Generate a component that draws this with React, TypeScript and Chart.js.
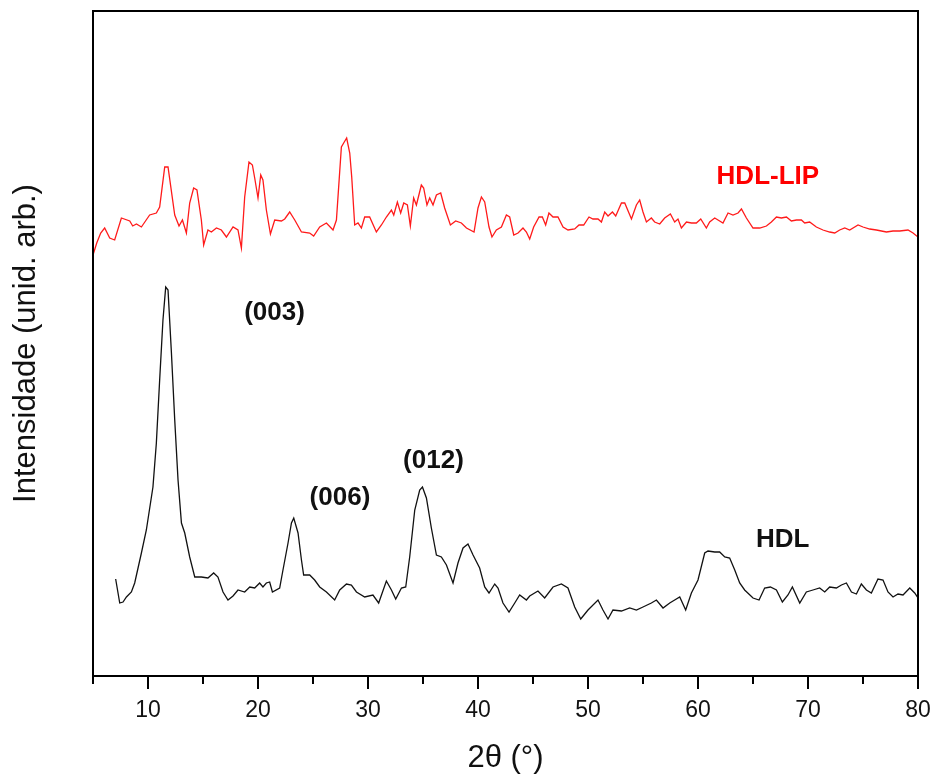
import React, { useEffect, useRef } from "react";
import { Chart, registerables } from "chart.js";

Chart.register(...registerables);

const FONT = '"Liberation Sans", Arial, Helvetica, sans-serif';

// x-axis tick marks (2θ, degrees); labels only on multiples of 10
const xTickValues = [5, 10, 15, 20, 25, 30, 35, 40, 45, 50, 55, 60, 65, 70, 75, 80];
const xTickLabels = ["", "10", "", "20", "", "30", "", "40", "", "50", "", "60", "", "70", "", "80"];

// HDL (black) pattern
const hdlTheta = [
  7.06, 7.43, 7.73, 8.04, 8.49, 8.79, 9.40, 9.85, 10.45, 10.76,
  11.06, 11.36, 11.61, 11.82, 12.13, 12.43, 12.73, 13.04, 13.34, 13.79,
  14.25, 14.85, 15.45, 15.97, 16.36, 16.82, 17.27, 17.73, 18.18, 18.79,
  19.25, 19.70, 20.15, 20.45, 20.76, 21.06, 21.31, 21.97, 22.27, 22.73,
  23.04, 23.25, 23.64, 23.95, 24.15, 24.70, 25.15, 25.61, 26.22, 26.97,
  27.43, 28.04, 28.49, 28.95, 29.70, 30.45, 30.97, 31.67, 32.13, 32.52,
  33.04, 33.43, 33.79, 34.25, 34.70, 34.95, 35.31, 35.76, 36.22, 36.67,
  37.13, 37.73, 38.18, 38.64, 39.09, 39.55, 40.15, 40.61, 41.00, 41.52,
  41.82, 42.27, 42.82, 43.34, 43.79, 44.40, 44.70, 45.45, 46.06, 46.82,
  47.58, 48.18, 48.79, 49.34, 50.00, 50.91, 51.36, 51.82, 52.27, 53.04,
  53.79, 54.40, 55.00, 55.76, 56.22, 56.82, 57.43, 57.88, 58.34, 58.88,
  59.40, 60.00, 60.61, 60.91, 61.52, 61.97, 62.43, 62.88, 63.34, 63.79,
  64.24, 65.00, 65.55, 66.06, 66.58, 67.13, 67.67, 68.18, 68.58, 69.25,
  69.85, 70.45, 71.06, 71.52, 71.97, 72.58, 73.04, 73.49, 73.95, 74.40,
  74.85, 75.31, 75.76, 76.36, 76.82, 77.27, 77.73, 78.18, 78.64, 79.25,
  79.70, 80.00,
];
const hdlIntensity = [
  97, 73, 74, 79, 84, 93, 123, 146, 189, 233,
  296, 356, 389, 386, 323, 256, 196, 153, 143, 119,
  99, 99, 98, 103, 99, 84, 76, 80, 86, 84,
  89, 88, 93, 89, 93, 94, 84, 88, 106, 133,
  153, 158, 143, 116, 101, 101, 96, 89, 84, 76,
  86, 92, 91, 84, 79, 81, 73, 95, 86, 77,
  88, 89, 119, 166, 186, 189, 178, 148, 121, 119,
  111, 93, 113, 128, 132, 121, 108, 89, 83, 92,
  88, 73, 64, 73, 81, 76, 80, 85, 78, 89,
  92, 88, 69, 57, 66, 76, 66, 57, 66, 65,
  68, 66, 69, 73, 76, 68, 73, 76, 79, 66,
  83, 96, 123, 125, 124, 124, 119, 118, 106, 93,
  86, 78, 76, 88, 89, 86, 74, 81, 89, 73,
  84, 86, 88, 84, 89, 88, 91, 93, 84, 82,
  92, 86, 83, 97, 96, 84, 79, 82, 81, 88,
  83, 78,
];

// HDL-LIP (red) pattern
const lipTheta = [
  5.00, 5.34, 5.70, 6.06, 6.52, 6.97, 7.58, 8.34, 8.61, 8.95,
  9.40, 10.15, 10.76, 11.06, 11.52, 11.82, 12.43, 12.82, 13.13, 13.49,
  13.79, 14.15, 14.45, 14.85, 15.06, 15.45, 15.76, 16.22, 16.67, 17.13,
  17.73, 18.18, 18.49, 18.79, 19.18, 19.49, 19.70, 20.00, 20.25, 20.45,
  20.76, 21.13, 21.52, 22.13, 22.43, 22.88, 23.34, 23.95, 24.70, 25.06,
  25.61, 26.22, 26.82, 27.13, 27.58, 27.79, 28.06, 28.34, 28.52, 28.79,
  29.09, 29.40, 29.70, 30.15, 30.76, 31.22, 31.67, 32.13, 32.34, 32.67,
  32.97, 33.25, 33.58, 33.85, 34.15, 34.40, 34.85, 35.06, 35.36, 35.61,
  35.91, 36.22, 36.61, 36.97, 37.49, 37.97, 38.49, 38.95, 39.64, 40.00,
  40.31, 40.61, 41.00, 41.27, 41.67, 42.13, 42.58, 42.88, 43.25, 43.64,
  44.09, 44.40, 44.70, 45.06, 45.55, 45.85, 46.15, 46.45, 46.82, 47.27,
  47.73, 48.18, 48.79, 49.18, 49.61, 50.09, 50.45, 50.91, 51.22, 51.52,
  51.82, 52.22, 52.52, 53.04, 53.34, 53.95, 54.40, 54.70, 55.00, 55.31,
  55.76, 56.06, 56.52, 56.97, 57.49, 57.88, 58.18, 58.49, 58.95, 59.40,
  59.85, 60.25, 60.76, 61.06, 61.52, 61.82, 62.27, 62.73, 63.18, 63.64,
  63.95, 64.40, 65.00, 65.61, 66.22, 66.67, 67.13, 67.58, 68.04, 68.49,
  68.95, 69.40, 69.70, 70.15, 70.76, 71.36, 71.97, 72.43, 72.88, 73.34,
  73.79, 74.55, 75.00, 75.61, 76.22, 77.13, 77.73, 78.34, 79.09, 79.55,
  80.00,
];
const lipIntensity = [
  421, 433, 443, 448, 438, 436, 458, 455, 450, 452,
  449, 461, 463, 469, 509, 509, 461, 450, 456, 443,
  473, 488, 486, 456, 431, 446, 444, 448, 446, 439,
  449, 446, 428, 479, 514, 511, 498, 478, 501, 496,
  466, 442, 456, 455, 457, 464, 456, 444, 443, 440,
  449, 453, 446, 456, 529, 533, 538, 523, 499, 451,
  453, 448, 459, 459, 444, 451, 459, 466, 461, 474,
  463, 473, 471, 450, 478, 471, 491, 488, 471, 478,
  471, 481, 483, 468, 451, 455, 453, 448, 444, 468,
  479, 474, 449, 439, 446, 449, 461, 459, 441, 443,
  448, 444, 437, 449, 459, 459, 451, 463, 459, 459,
  449, 446, 447, 451, 451, 459, 457, 457, 454, 464,
  460, 464, 460, 473, 473, 457, 471, 476, 464, 454,
  458, 454, 452, 458, 462, 454, 457, 448, 454, 453,
  453, 457, 448, 454, 458, 456, 453, 463, 461, 463,
  467, 458, 448, 448, 450, 454, 459, 458, 459, 455,
  456, 456, 453, 454, 449, 446, 444, 443, 446, 448,
  446, 451, 449, 447, 446, 444, 445, 445, 446, 443,
  439,
];

// Text annotations placed in data coordinates
const annTexts = ["(003)", "(006)", "(012)", "HDL", "HDL-LIP"];
const annTheta = [21.5, 27.45, 35.95, 67.7, 66.35];
const annIntensity = [363, 178, 215, 136, 499];
const annColors = ["#111111", "#111111", "#111111", "#111111", "#ff0000"];

const Y_MIN = 0;
const Y_MAX = 665;

const framePlugin = {
  id: "frameAndTicks",
  afterDraw(chart: any) {
    const { ctx, chartArea: a, scales } = chart;
    const x = scales.x;
    const y = scales.y;
    ctx.save();
    ctx.strokeStyle = "#000";
    ctx.lineWidth = 2;
    ctx.strokeRect(a.left, a.top, a.right - a.left, a.bottom - a.top);
    xTickValues.forEach((v) => {
      const px = Math.round(x.getPixelForValue(v));
      const len = v % 10 === 0 ? 13 : 8;
      ctx.beginPath();
      ctx.moveTo(px, a.bottom);
      ctx.lineTo(px, a.bottom + len);
      ctx.stroke();
    });
    ctx.textAlign = "center";
    ctx.textBaseline = "middle";
    annTexts.forEach((t, i) => {
      ctx.font = `bold 26px ${FONT}`;
      ctx.fillStyle = annColors[i];
      ctx.fillText(t, x.getPixelForValue(annTheta[i]), y.getPixelForValue(annIntensity[i]));
    });
    ctx.restore();
  },
};

export default function App() {
  const canvasRef = useRef<HTMLCanvasElement | null>(null);

  useEffect(() => {
    if (!canvasRef.current) return;
    const chart = new Chart(canvasRef.current, {
      type: "line",
      data: {
        datasets: [
          {
            label: "HDL-LIP",
            data: lipTheta.map((t, i) => ({ x: t, y: lipIntensity[i] })),
            borderColor: "#ff1a1a",
            borderWidth: 1.3,
            pointRadius: 0,
            tension: 0,
            fill: false,
          },
          {
            label: "HDL",
            data: hdlTheta.map((t, i) => ({ x: t, y: hdlIntensity[i] })),
            borderColor: "#111111",
            borderWidth: 1.3,
            pointRadius: 0,
            tension: 0,
            fill: false,
          },
        ],
      },
      plugins: [framePlugin],
      options: {
        animation: false,
        responsive: false,
        devicePixelRatio: 1,
        layout: { padding: { top: 11, right: 17, left: 0, bottom: 0 } },
        plugins: {
          legend: { display: false },
          tooltip: { enabled: false },
        },
        scales: {
          x: {
            type: "linear",
            min: 5,
            max: 80,
            afterBuildTicks: (scale: any) => {
              scale.ticks = xTickValues.map((v) => ({ value: v }));
            },
            afterFit: (scale: any) => {
              scale.height = 99;
              scale.paddingLeft = 0;
              scale.paddingRight = 0;
            },
            grid: { display: false, drawTicks: false },
            border: { display: false },
            ticks: {
              autoSkip: false,
              maxRotation: 0,
              padding: 21,
              color: "#111",
              font: { family: FONT, size: 23 },
              callback: (value: any) => {
                const idx = xTickValues.indexOf(Number(value));
                return idx >= 0 ? xTickLabels[idx] : "";
              },
            },
            title: {
              display: true,
              text: "2θ (°)",
              color: "#111",
              font: { family: FONT, size: 31, lineHeight: 1 },
              padding: { top: 0, bottom: 1 },
            },
          },
          y: {
            type: "linear",
            min: Y_MIN,
            max: Y_MAX,
            afterFit: (scale: any) => {
              scale.width = 93;
              scale.paddingTop = 0;
              scale.paddingBottom = 0;
            },
            grid: { display: false, drawTicks: false },
            border: { display: false },
            ticks: { display: false },
            title: {
              display: true,
              text: "Intensidade (unid. arb.)",
              color: "#111",
              font: { family: FONT, size: 31, lineHeight: 1 },
              padding: { top: 11, bottom: 0 },
            },
          },
        },
      },
    } as any);
    return () => chart.destroy();
  }, []);

  return (
    <div style={{ position: "absolute", left: 0, top: 0, width: 935, height: 775, background: "#fff" }}>
      <canvas ref={canvasRef} width={935} height={775} style={{ display: "block" }} />
    </div>
  );
}
